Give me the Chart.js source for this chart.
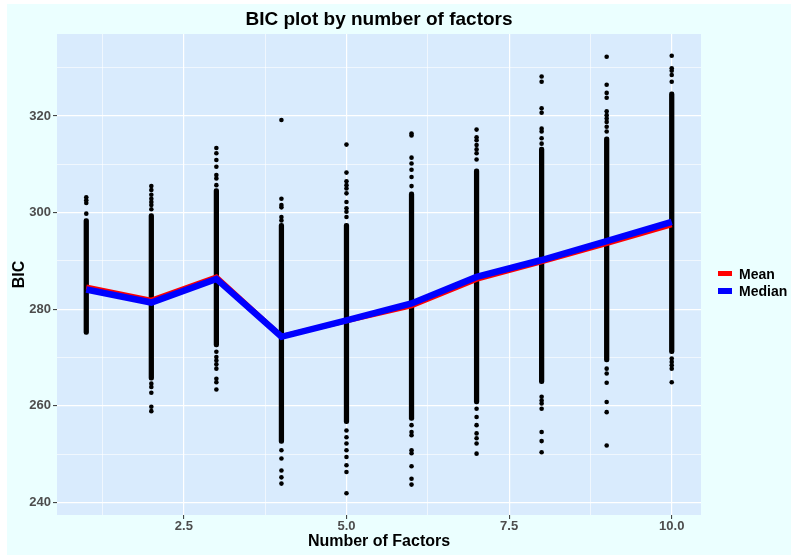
<!DOCTYPE html>
<html>
<head>
<meta charset="utf-8">
<script src="https://cdn.jsdelivr.net/npm/chart.js@4/dist/chart.umd.min.js"></script>
<style>
  body { margin: 0; background: #fff; font-family: "Liberation Sans", Arial, sans-serif; }
  #wrap { position: absolute; left: 7px; top: 4px; width: 784px; height: 551px; background: #EBFFFF; }
  #bicChart { position: absolute; left: 0; top: 0; }
  .leg-key { position: absolute; left: 711px; width: 14px; }
  .leg-txt { position: absolute; left: 732px; font-weight: bold; font-size: 14px; color: #000; line-height: 16px; }
</style>
</head>
<body>
<div id="wrap">
  <canvas id="bicChart" width="784" height="551"></canvas>
  <div class="leg-key" style="top:267px;height:5px;background:#FF0000"></div>
  <div class="leg-txt" style="top:262px">Mean</div>
  <div class="leg-key" style="top:284px;height:6px;background:#0000FF"></div>
  <div class="leg-txt" style="top:279px">Median</div>
</div>
<script>
// number of factors on the x axis
const factors = [1, 2, 3, 4, 5, 6, 7, 8, 9, 10];

// summary lines
const meanBIC   = [284.6, 281.9, 286.7, 274.4, 277.6, 280.7, 286.2, 289.8, 293.6, 297.5];
const medianBIC = [284.1, 281.4, 286.3, 274.3, 277.7, 281.2, 286.7, 290.2, 294.1, 298.1];

// where the dots merge into a solid column (low / high BIC per factor)
const denseLow  = [274.8, 265.3, 272.2, 252.2, 256.3, 257.0, 260.4, 264.6, 269.1, 270.8];
const denseHigh = [298.8, 299.8, 305.0, 297.8, 297.8, 304.3, 309.1, 313.6, 315.7, 325.0];

// separate dots above / below the solid part
const loosePoints = [
    [303.2, 302.6, 302.0, 299.8],
    [305.5, 304.7, 303.7, 302.9, 302.2, 301.6, 300.7, 264.6, 263.9, 262.7, 259.8, 258.9],
    [313.4, 312.3, 310.9, 309.5, 307.8, 307.1, 305.7, 271.2, 270.1, 269.4, 268.6, 267.7, 265.6, 264.9, 263.4],
    [319.2, 302.9, 301.6, 301.1, 299.1, 298.4, 250.8, 249.1, 246.6, 245.2, 243.9],
    [314.1, 308.3, 306.5, 305.7, 305.0, 304.0, 302.2, 300.9, 300.2, 299.1, 254.9, 253.5, 252.2, 250.8, 249.4, 247.7, 246.3, 241.9],
    [316.4, 316.0, 311.4, 310.2, 308.9, 307.4, 305.5, 256.0, 254.6, 253.9, 250.8, 250.2, 247.5, 244.9, 243.7],
    [317.2, 315.6, 315.0, 314.0, 313.1, 312.3, 311.0, 259.4, 257.7, 256.0, 254.3, 253.3, 252.2, 250.1],
    [328.2, 327.1, 321.6, 320.7, 317.4, 316.8, 315.4, 314.3, 261.9, 261.1, 260.5, 259.4, 254.6, 252.7, 250.4],
    [332.3, 326.5, 324.8, 323.8, 321.0, 320.2, 319.5, 318.8, 317.8, 316.8, 267.7, 266.7, 264.8, 260.8, 258.7, 251.8],
    [332.5, 329.9, 329.4, 328.5, 327.1, 269.8, 269.1, 268.4, 267.7, 264.9]
];

// axis ticks (major get a label, minor only a thin grid line)
const xTicks = [1.25, 2.5, 3.75, 5.0, 6.25, 7.5, 8.75, 10.0];
const xLabelled = [2.5, 5.0, 7.5, 10.0];
const yTicks = [240, 250, 260, 270, 280, 290, 300, 310, 320, 330];
const yLabelled = [240, 260, 280, 300, 320];

const FONT = '"Liberation Sans", Arial, sans-serif';
const TICK_GREY = '#4D4D4D';

window.onload = () => {
    const dots = [];
    factors.forEach((f, i) => loosePoints[i].forEach(v => dots.push({ x: f, y: v })));
    const columns = factors.map((f, i) => ({ x: f, y: [denseLow[i], denseHigh[i]] }));

    const isMajorX = v => xLabelled.some(t => Math.abs(t - v) < 1e-6);
    const isMajorY = v => yLabelled.includes(v);

    new Chart(document.getElementById('bicChart').getContext('2d'), {
        type: 'scatter',
        data: {
            datasets: [
                {
                    type: 'line', label: 'Median',
                    data: factors.map((f, i) => ({ x: f, y: medianBIC[i] })),
                    borderColor: '#0000FF', borderWidth: 6.5, pointRadius: 0,
                    tension: 0, fill: false, borderJoinStyle: 'miter', order: 0
                },
                {
                    type: 'line', label: 'Mean',
                    data: factors.map((f, i) => ({ x: f, y: meanBIC[i] })),
                    borderColor: '#FF0000', borderWidth: 5, pointRadius: 0,
                    tension: 0, fill: false, borderJoinStyle: 'miter', order: 1
                },
                {
                    type: 'scatter', label: 'BIC',
                    data: dots,
                    backgroundColor: '#000', borderWidth: 0, pointRadius: 2.3, order: 2
                },
                {
                    type: 'bar', label: 'BIC dense',
                    data: columns,
                    backgroundColor: '#000', barThickness: 4.6, grouped: false,
                    borderRadius: 2.3, borderSkipped: false, order: 3
                }
            ]
        },
        options: {
            responsive: false,
            animation: false,
            devicePixelRatio: 1,
            layout: { padding: { left: 0, right: 90, top: 0, bottom: 0 } },
            plugins: {
                legend: { display: false },
                tooltip: { enabled: false },
                title: {
                    display: true, fullSize: false,
                    text: 'BIC plot by number of factors',
                    color: '#000',
                    font: { family: FONT, size: 19, weight: 'bold', lineHeight: 1.2 },
                    padding: { top: 4, bottom: 3.2 }
                }
            },
            scales: {
                x: {
                    type: 'linear', min: 0.55, max: 10.45, offset: false,
                    afterBuildTicks: s => { s.ticks = xTicks.map(v => ({ value: v })); },
                    afterFit: s => { s.height = 40; },
                    border: { display: false },
                    grid: {
                        offset: false,
                        color: '#FFFFFF',
                        lineWidth: c => isMajorX(c.tick.value) ? 1.2 : 0.6,
                        tickColor: c => isMajorX(c.tick.value) ? '#333333' : 'rgba(0,0,0,0)',
                        tickLength: 4, tickWidth: 1
                    },
                    ticks: {
                        autoSkip: false, maxRotation: 0, padding: 0,
                        color: TICK_GREY,
                        font: { family: FONT, size: 13, weight: 'bold' },
                        callback: v => isMajorX(v) ? v.toFixed(1) : ''
                    },
                    title: {
                        display: true, text: 'Number of Factors', color: '#000',
                        font: { family: FONT, size: 16, weight: 'bold', lineHeight: 1.2 },
                        padding: { top: 0, bottom: 4 }
                    }
                },
                y: {
                    type: 'linear', min: 237.4, max: 337.0,
                    afterBuildTicks: s => { s.ticks = yTicks.map(v => ({ value: v })); },
                    afterFit: s => { s.width = 50; },
                    border: { display: false },
                    grid: {
                        color: '#FFFFFF',
                        lineWidth: c => isMajorY(c.tick.value) ? 1.2 : 0.6,
                        tickColor: c => isMajorY(c.tick.value) ? '#333333' : 'rgba(0,0,0,0)',
                        tickLength: 4, tickWidth: 1
                    },
                    ticks: {
                        autoSkip: false, padding: 2,
                        color: TICK_GREY,
                        font: { family: FONT, size: 13, weight: 'bold' },
                        callback: v => isMajorY(v) ? String(v) : ''
                    },
                    title: {
                        display: true, text: 'BIC', color: '#000',
                        font: { family: FONT, size: 16, weight: 'bold', lineHeight: 1.2 },
                        padding: { top: 3, bottom: 0 }
                    }
                }
            }
        },
        plugins: [{
            id: 'panelBg',
            beforeDraw(chart) {
                const { ctx, chartArea: a } = chart;
                ctx.save();
                ctx.fillStyle = '#D9EBFD';
                ctx.fillRect(a.left, a.top, a.right - a.left, a.bottom - a.top);
                ctx.restore();
            }
        }]
    });
};
</script>
</body>
</html>
